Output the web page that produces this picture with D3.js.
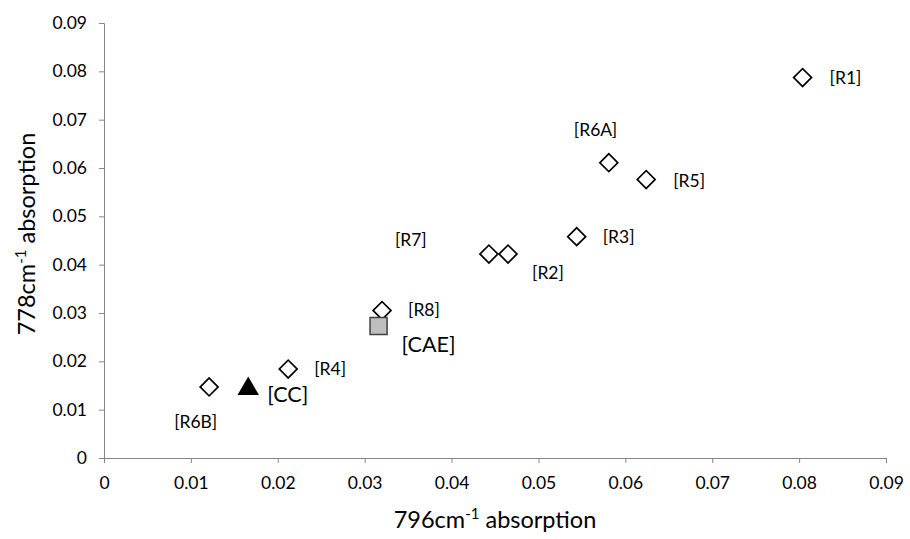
<!DOCTYPE html>
<html lang="en">
<head>
  <meta charset="UTF-8">
  <title>778 vs 796 cm-1 absorption</title>
  <script src="https://d3js.org/d3.v7.min.js"></script>
  <style>
    body { margin: 0; background: #fff; }
    svg text { font-family: Lato, "Open Sans", sans-serif; fill: #000; }
    .axis path, .axis line { stroke: #868686; }
  </style>
</head>
<body>
  <svg id="chart" width="910" height="539"></svg>

  <script>
    // samples (open diamonds)
    const sampleNames = ["R1", "R6A", "R5", "R3", "R2", "R7", "R8", "R4", "R6B"];
    const sample796 = [0.0804, 0.0581, 0.0624, 0.0544, 0.0465, 0.0443, 0.0320, 0.0212, 0.0121];
    const sample778 = [0.0787, 0.0611, 0.0576, 0.0458, 0.0422, 0.0422, 0.0305, 0.0184, 0.0147];

    // references
    const refNames = ["CAE", "CC"];
    const ref796 = [0.0316, 0.0166];
    const ref778 = [0.0273, 0.0143];

    const tickValues = [0, 0.01, 0.02, 0.03, 0.04, 0.05, 0.06, 0.07, 0.08, 0.09];

    // label placement relative to the marker (px)
    const labelOffset = {
      R1: [27, 6], R6A: [-35, -27], R5: [27, 7], R3: [26, 6], R2: [24, 25],
      R7: [-94, -8], R8: [26, 5], R4: [26, 6], R6B: [-35, 41],
      CAE: [23, 26], CC: [19, 13]
    };

    const svg = d3.select("#chart");
    const x = d3.scaleLinear().domain([0, 0.09]).range([104, 886]);
    const y = d3.scaleLinear().domain([0, 0.09]).range([458, 23]);
    const fmt = d => d === 0 ? "0" : d3.format(".2f")(d);

    svg.append("g").attr("class", "axis")
      .attr("transform", "translate(0,458)")
      .call(d3.axisBottom(x).tickValues(tickValues).tickFormat(fmt)
        .tickSize(5).tickSizeOuter(5).tickPadding(14));
    svg.append("g").attr("class", "axis")
      .attr("transform", "translate(104,0)")
      .call(d3.axisLeft(y).tickValues(tickValues).tickFormat(fmt)
        .tickSize(5).tickSizeOuter(5).tickPadding(12));
    svg.selectAll(".axis text").style("font-size", "17.5px").attr("fill", "#000");

    // axis titles
    const xt = svg.append("text").attr("x", 495).attr("y", 528).attr("text-anchor", "middle").style("font-size", "23.5px");
    xt.append("tspan").text("796cm");
    xt.append("tspan").attr("dy", -9).style("font-size", "15px").text("-1");
    xt.append("tspan").attr("dy", 9).text(" absorption");

    const yt = svg.append("text").attr("transform", "translate(35,234) rotate(-90)")
      .attr("text-anchor", "middle").style("font-size", "23.5px");
    yt.append("tspan").text("778cm");
    yt.append("tspan").attr("dy", -9).style("font-size", "15px").text("-1");
    yt.append("tspan").attr("dy", 9).text(" absorption");

    const samples = sampleNames.map((n, i) => ({ name: n, x: sample796[i], y: sample778[i] }));
    const refs = refNames.map((n, i) => ({ name: n, x: ref796[i], y: ref778[i] }));

    const diamond = d3.symbol().type(d3.symbolSquare).size(160);
    svg.append("g").selectAll("path").data(samples).join("path")
      .attr("d", diamond)
      .attr("transform", d => `translate(${x(d.x)},${y(d.y)}) rotate(45)`)
      .attr("fill", "#fff").attr("stroke", "#000").attr("stroke-width", 1.7);

    // CAE square
    svg.append("path").datum(refs[0])
      .attr("d", d3.symbol().type(d3.symbolSquare).size(290))
      .attr("transform", d => `translate(${x(d.x)},${y(d.y)})`)
      .attr("fill", "#bfbfbf").attr("stroke", "#404040").attr("stroke-width", 1.5);

    // CC triangle
    svg.append("path").datum(refs[1])
      .attr("d", d3.symbol().type(d3.symbolTriangle).size(200))
      .attr("transform", d => `translate(${x(d.x)},${y(d.y)})`)
      .attr("fill", "#000");

    svg.append("g").selectAll("text").data(samples).join("text")
      .attr("x", d => x(d.x) + labelOffset[d.name][0])
      .attr("y", d => y(d.y) + labelOffset[d.name][1])
      .style("font-size", "17.5px").attr("fill", "#222")
      .text(d => `[${d.name}]`);

    svg.append("g").selectAll("text").data(refs).join("text")
      .attr("x", d => x(d.x) + labelOffset[d.name][0])
      .attr("y", d => y(d.y) + labelOffset[d.name][1])
      .style("font-size", "21.5px")
      .text(d => `[${d.name}]`);
  </script>
</body>
</html>
